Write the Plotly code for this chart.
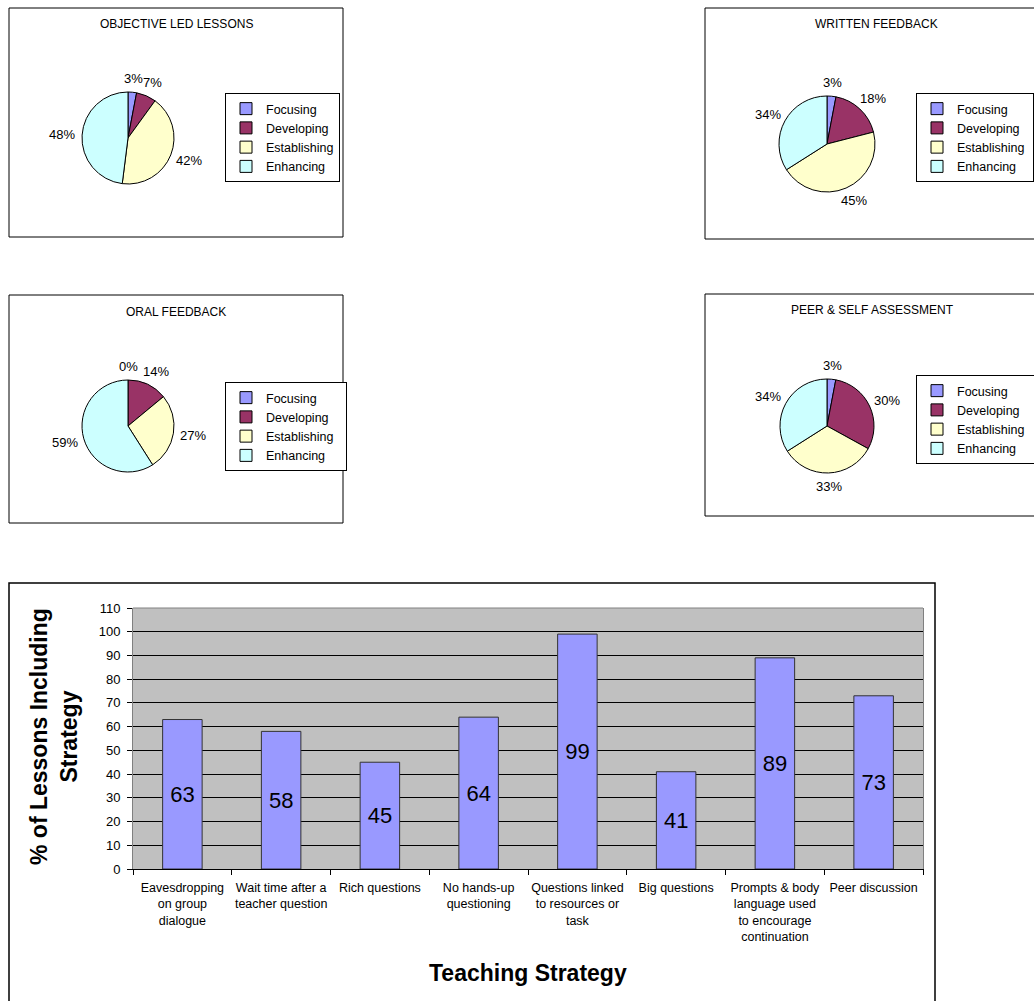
import math
import plotly.graph_objects as go

W, H = 1034, 1001
FONT = "Arial, Liberation Sans, sans-serif"

# ---- data ----
levels = ["Focusing", "Developing", "Establishing", "Enhancing"]
level_colors = ["#9999FF", "#993366", "#FFFFCC", "#CCFFFF"]

objective_led = [3, 7, 42, 48]
written_feedback = [3, 18, 45, 34]
oral_feedback = [0, 14, 27, 59]
peer_self = [3, 30, 33, 34]

strategies = [
    "Eavesdropping<br>on group<br>dialogue",
    "Wait time after a<br>teacher question",
    "Rich questions",
    "No hands-up<br>questioning",
    "Questions linked<br>to resources or<br>task",
    "Big questions",
    "Prompts & body<br>language used<br>to encourage<br>continuation",
    "Peer discussion",
]
strategy_pct = [63, 58, 45, 64, 99, 41, 89, 73]
y_ticks = list(range(0, 111, 10))


def px(x):
    return x / W


def py(y):
    return 1 - y / H


fig = go.Figure()

# ---- pie panels ----
panels = [
    # title, values, pie centre/radius, box, title pos, legend top-left, legend id
    ("OBJECTIVE LED LESSONS", objective_led, (128, 138, 46), (9, 8, 343, 237), (176, 24), (225, 93), "legend"),
    ("WRITTEN FEEDBACK", written_feedback, (827, 144, 48), (705, 8, 1040, 239), (876, 24), (916, 93), "legend2"),
    ("ORAL FEEDBACK", oral_feedback, (128, 426, 46), (9, 295, 343, 523), (176, 312), (225, 382), "legend3"),
    ("PEER & SELF ASSESSMENT", peer_self, (827, 426, 47), (705, 294, 1040, 516), (872, 310), (916, 375), "legend4"),
]

shapes = []
annotations = []
legend_layouts = {}

for k, (title, vals, (cx, cy, r), (bx0, by0, bx1, by1), (tx, ty), (lx, ly), lg) in enumerate(panels):
    # each pie gets its own legend, so keep its label keys distinct
    labels_k = [name + " " * k for name in levels]
    fig.add_trace(go.Pie(
        labels=labels_k,
        values=vals,
        sort=False,
        direction="clockwise",
        rotation=0,
        marker=dict(colors=level_colors, line=dict(color="black", width=1)),
        textposition="none",
        domain=dict(x=[px(cx - r), px(cx + r)], y=[py(cy + r), py(cy - r)]),
        legend=lg,
        showlegend=True,
        hoverinfo="label+percent",
    ))

    # percentage labels just outside each slice, at the slice's mid angle
    total = sum(vals)
    cum = 0
    for v in vals:
        mid = (cum + v / 2) / total * 2 * math.pi
        cum += v
        txt = f"{v}%"
        s, c = math.sin(mid), math.cos(mid)
        d = r + 6
        hw, hh = 4.6 * len(txt), 8
        annotations.append(dict(
            text=txt, xref="paper", yref="paper",
            x=px(cx + d * s), y=py(cy - d * c),
            xshift=hw * s, yshift=hh * c,
            showarrow=False, xanchor="center", yanchor="middle",
            font=dict(family=FONT, size=13, color="black"),
        ))

    shapes.append(dict(type="rect", xref="paper", yref="paper",
                       x0=px(bx0), x1=px(bx1), y0=py(by1), y1=py(by0),
                       line=dict(color="black", width=1)))
    annotations.append(dict(text=title, xref="paper", yref="paper",
                            x=px(tx), y=py(ty), showarrow=False,
                            xanchor="center", yanchor="middle",
                            font=dict(family=FONT, size=12, color="black")))
    legend_layouts[lg] = dict(
        x=px(lx), y=py(ly), xanchor="left", yanchor="top",
        bordercolor="black", borderwidth=1, bgcolor="white",
        font=dict(family=FONT, size=12.5, color="black"),
        itemwidth=30, tracegroupgap=0,
    )

# ---- bar chart ----
fig.add_trace(go.Bar(
    x=strategies,
    y=strategy_pct,
    text=strategy_pct,
    textposition="inside",
    insidetextanchor="middle",
    constraintext="none",
    textfont=dict(family=FONT, size=22, color="black"),
    marker=dict(color="#9999FF", line=dict(color="#333333", width=1)),
    showlegend=False,
    xaxis="x", yaxis="y",
))

shapes.append(dict(type="rect", xref="paper", yref="paper",
                   x0=px(9), x1=px(935), y0=py(1010), y1=py(583),
                   line=dict(color="black", width=1.5)))
# grey top edge of the plotting area
shapes.append(dict(type="line", xref="x domain", yref="y domain",
                   x0=0, x1=1, y0=1, y1=1,
                   line=dict(color="#808080", width=1)))

annotations.append(dict(text="<b>% of Lessons Including<br>Strategy</b>", xref="paper", yref="paper",
                        x=px(54), y=py(737), showarrow=False, textangle=-90,
                        xanchor="center", yanchor="middle",
                        font=dict(family=FONT, size=23, color="black")))
annotations.append(dict(text="<b>Teaching Strategy</b>", xref="paper", yref="paper",
                        x=px(528), y=py(973), showarrow=False,
                        xanchor="center", yanchor="middle",
                        font=dict(family=FONT, size=23, color="black")))

layout = dict(
    width=W, height=H,
    margin=dict(l=0, r=0, t=0, b=0, autoexpand=False),
    paper_bgcolor="white",
    plot_bgcolor="#C0C0C0",
    font=dict(family=FONT, color="black"),
    bargap=0.6,
    xaxis=dict(
        domain=[px(133), px(923)],
        anchor="y",
        type="category",
        tickson="boundaries",
        ticks="outside", ticklen=5, tickcolor="black",
        ticklabelstandoff=7,
        showline=True, linecolor="black", linewidth=1,
        showgrid=False,
        tickfont=dict(family=FONT, size=12.5, color="black"),
        tickangle=0,
    ),
    yaxis=dict(
        domain=[py(869), py(608)],
        anchor="x",
        range=[0, 110],
        tickvals=y_ticks,
        ticks="outside", ticklen=5, tickcolor="black",
        ticklabelstandoff=4,
        showline=True, linecolor="#808080", linewidth=1, mirror=True,
        showgrid=True, gridcolor="black", gridwidth=1,
        zeroline=False,
        tickfont=dict(family=FONT, size=13, color="black"),
    ),
    shapes=shapes,
    annotations=annotations,
)
layout.update(legend_layouts)
fig.update_layout(**layout)

fig.write_html("out.html")
